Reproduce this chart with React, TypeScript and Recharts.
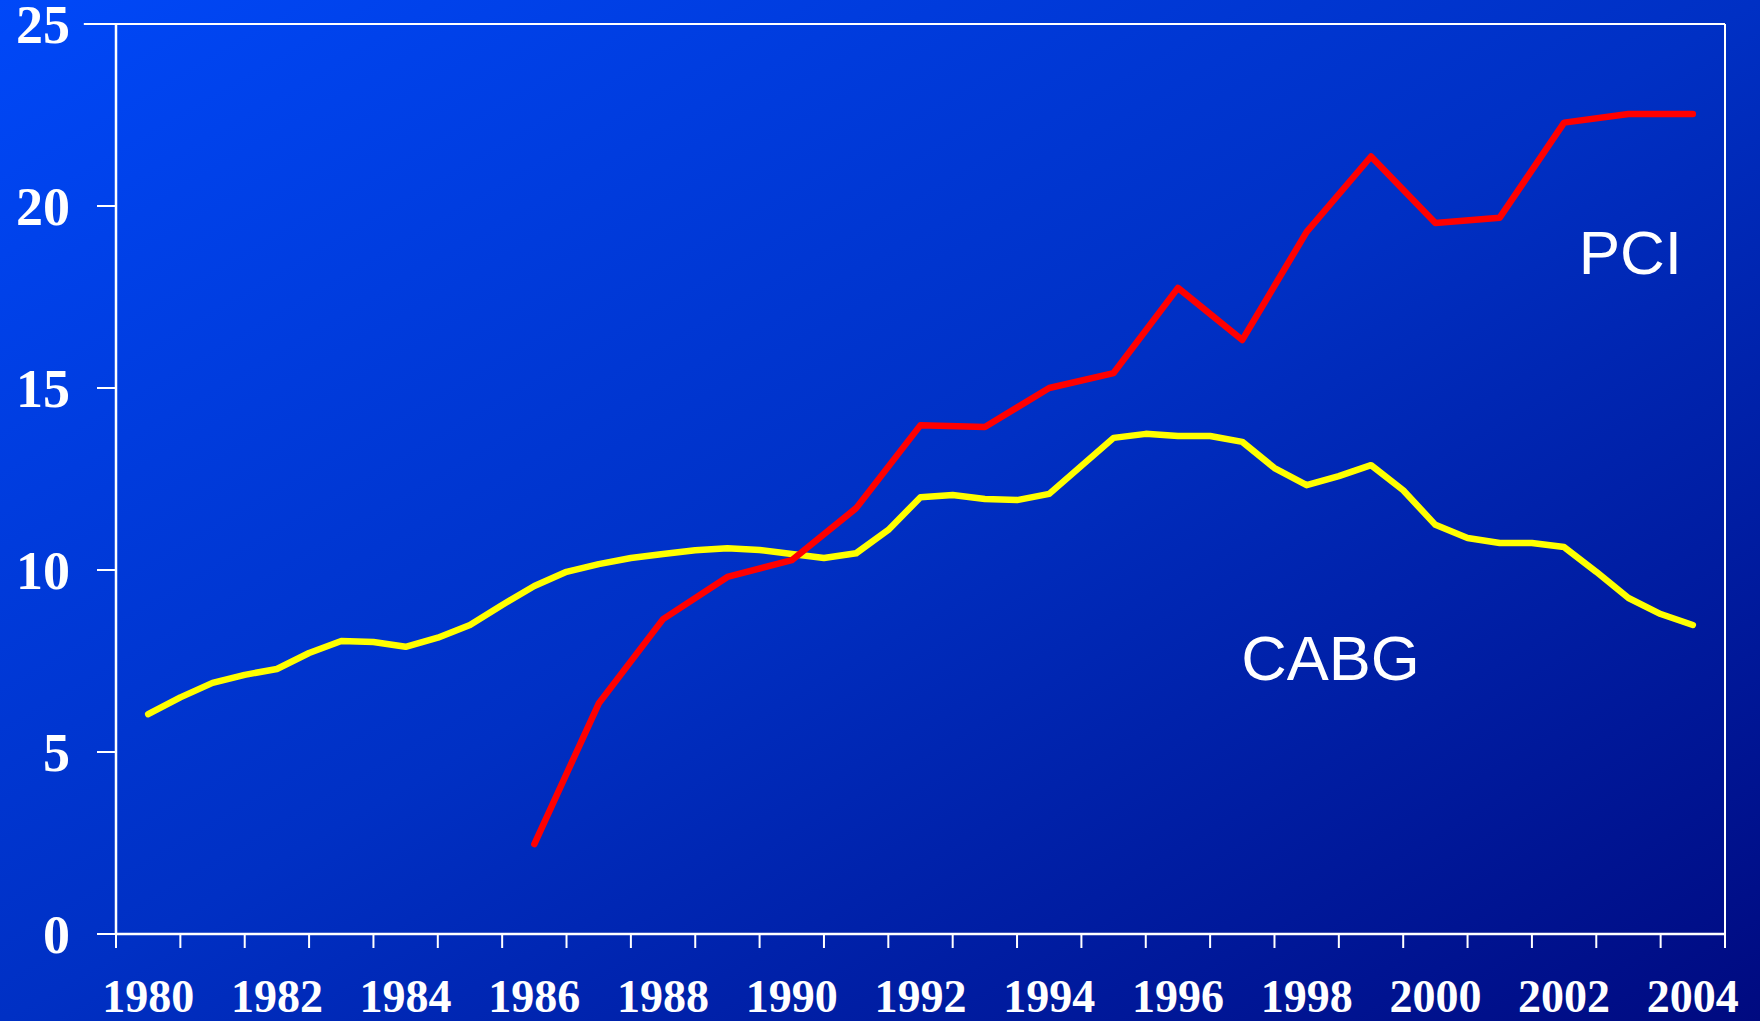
import { LineChart, Line, XAxis, YAxis, ReferenceLine, ReferenceDot } from "recharts"

// CABG read every half year, 1980 – 2004
const cabgValues = [
  6.04, 6.5, 6.9, 7.12, 7.28, 7.72, 8.05, 8.02, 7.89, 8.14,
  8.49, 9.04, 9.56, 9.95, 10.16, 10.33, 10.44, 10.54, 10.6, 10.55,
  10.44, 10.33, 10.46, 11.1, 12.0, 12.06, 11.95, 11.92, 12.09, 12.86,
  13.63, 13.74, 13.68, 13.68, 13.52, 12.8, 12.33, 12.58, 12.88, 12.19,
  11.24, 10.88, 10.74, 10.74, 10.63, 9.95, 9.23, 8.79, 8.49,
]

const pciYears = [
  1986, 1987, 1988, 1989, 1990, 1991, 1992, 1993, 1994, 1995,
  1996, 1997, 1998, 1999, 2000, 2001, 2002, 2003, 2004,
]
const pciValues = [
  2.47, 6.33, 8.65, 9.81, 10.27, 11.7, 13.98, 13.93, 15.0, 15.41,
  17.75, 16.32, 19.29, 21.36, 19.53, 19.68, 22.29, 22.53, 22.53,
]

const years = [
  1980, 1981, 1982, 1983, 1984, 1985, 1986, 1987, 1988, 1989, 1990, 1991, 1992,
  1993, 1994, 1995, 1996, 1997, 1998, 1999, 2000, 2001, 2002, 2003, 2004,
]
const yearLabels = [1980, 1982, 1984, 1986, 1988, 1990, 1992, 1994, 1996, 1998, 2000, 2002, 2004]
const yTicks = [0, 5, 10, 15, 20, 25]

const cabgData = cabgValues.map((v, i) => ({ year: 1980 + i / 2, value: v }))
const pciData = pciYears.map((y, i) => ({ year: y, value: pciValues[i] }))

// tick marks sit between the years
const boundaries = [...years.map((y) => y - 0.5), 2004.5]

const serif = "'Liberation Serif', 'Times New Roman', serif"
const sans = "'Liberation Sans', Arial, sans-serif"

const NoLabel = () => <g />

export default function App() {
  return (
    <div
      style={{
        position: "absolute",
        left: 0,
        top: 0,
        width: 1760,
        height: 1021,
        overflow: "hidden",
        background: "linear-gradient(to bottom right, #0048f8 0%, #0030c4 50%, #000a80 100%)",
      }}
    >
      <LineChart width={1760} height={1021} margin={{ top: 24, right: 35, left: 0, bottom: 0 }}>
        <XAxis
          type="number"
          dataKey="year"
          domain={[1979.5, 2004.5]}
          ticks={boundaries}
          interval={0}
          tick={NoLabel}
          tickSize={14}
          height={14}
          axisLine={{ stroke: "#fff", strokeWidth: 2.5 }}
          tickLine={{ stroke: "#fff", strokeWidth: 2 }}
        />
        <XAxis
          xAxisId="labels"
          type="number"
          dataKey="year"
          domain={[1979.5, 2004.5]}
          allowDataOverflow
          ticks={yearLabels}
          interval={0}
          axisLine={false}
          tickLine={false}
          tickSize={0}
          tickMargin={31}
          height={73}
          tick={{ fill: "#fff", fontSize: 46, fontWeight: "bold", fontFamily: serif }}
        />
        <YAxis
          type="number"
          domain={[0, 25]}
          ticks={yTicks}
          interval={0}
          width={116}
          tickSize={19}
          tickMargin={27}
          axisLine={{ stroke: "#fff", strokeWidth: 2.5 }}
          tickLine={{ stroke: "#fff", strokeWidth: 2 }}
          tick={{ fill: "#fff", fontSize: 54, fontWeight: "bold", fontFamily: serif }}
        />
        <ReferenceLine
          segment={[
            { x: 1979, y: 25 },
            { x: 2004.5, y: 25 },
          ]}
          ifOverflow="visible"
          stroke="#fff"
          strokeWidth={2}
        />
        <ReferenceLine x={2004.5} stroke="#fff" strokeWidth={2} />
        <Line
          data={cabgData}
          dataKey="value"
          type="linear"
          stroke="#ffff00"
          strokeWidth={6.5}
          strokeLinecap="round"
          strokeLinejoin="round"
          dot={false}
          isAnimationActive={false}
        />
        <Line
          data={pciData}
          dataKey="value"
          type="linear"
          stroke="#ff0000"
          strokeWidth={6.5}
          strokeLinecap="round"
          strokeLinejoin="round"
          dot={false}
          isAnimationActive={false}
        />
        <ReferenceDot
          x={2003.03}
          y={18.74}
          r={1}
          fill="none"
          stroke="none"
          label={{ value: "PCI", position: "center", fill: "#fff", fontSize: 62, fontFamily: sans }}
        />
        <ReferenceDot
          x={1998.37}
          y={7.58}
          r={1}
          fill="none"
          stroke="none"
          label={{ value: "CABG", position: "center", fill: "#fff", fontSize: 63, fontFamily: sans }}
        />
      </LineChart>
    </div>
  )
}
